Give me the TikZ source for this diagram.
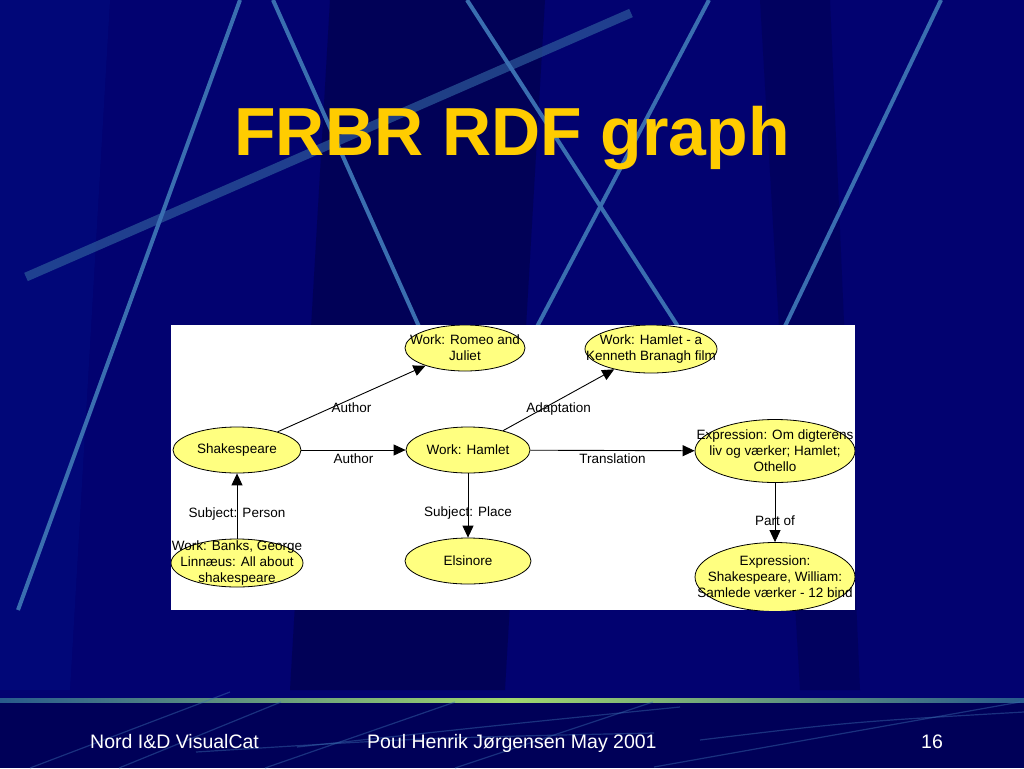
\documentclass[tikz,border=0pt]{standalone}
\usepackage{fontspec}
\setmainfont{Liberation Sans}
\usetikzlibrary{shapes.geometric,arrows.meta}
\definecolor{bgblue}{RGB}{2,2,112}
\definecolor{bgfoot}{RGB}{0,0,88}
\definecolor{streak}{RGB}{58,110,176}
\definecolor{streakthick}{RGB}{45,90,155}
\definecolor{titleyellow}{RGB}{255,204,0}
\definecolor{nodeyellow}{RGB}{255,255,128}
\definecolor{barmid}{RGB}{160,215,110}
\definecolor{barend}{RGB}{40,90,140}
\tikzset{
  ent/.style={ellipse, draw=black, line width=0.8pt, fill=nodeyellow, inner sep=0pt},
  txt/.style={font=\fontsize{13.5}{16}\selectfont, align=center, inner sep=0pt, text=black},
  lbl/.style={font=\fontsize{13.5}{16}\selectfont, inner sep=0pt, text=black},
  arr/.style={draw=black, line width=0.9pt, -{Triangle[length=12pt,width=11pt]}},
  streakline/.style={draw=streak, line width=4pt},
  footline/.style={draw=streak, line width=1.2pt, opacity=0.45},
  foottext/.style={font=\fontsize{19.5}{22}\selectfont, text=white, anchor=base west, inner sep=0pt}
}
\begin{document}
\begin{tikzpicture}[x=1pt,y=-1pt]
\useasboundingbox (0,0) rectangle (1024,768);
% background
\fill[bgblue] (0,0) rectangle (1024,768);
\fill[black, opacity=0.22] (330,0) -- (545,0) -- (505,690) -- (290,690) -- cycle;
\fill[black, opacity=0.15] (760,0) -- (830,0) -- (860,690) -- (800,690) -- cycle;
\fill[blue!60!cyan, opacity=0.06] (0,0) -- (110,0) -- (70,690) -- (0,690) -- cycle;
% streaks
\draw[streakthick, line width=9pt, opacity=0.7] (631,13) -- (26,277);
\draw[streakline] (240,0) -- (18,610);
\draw[streakline] (273,0) -- (425,340);
\draw[streakline] (467,0) -- (690,345);
\draw[streakline] (709,0) -- (530,340);
\draw[streakline] (941,0) -- (776,345);
% footer
\fill[bgfoot] (0,702) rectangle (1024,768);
\shade[left color=barend, right color=barend, middle color=barmid] (0,698) rectangle (1024,702.5);
\draw[footline] (30,768) -- (230,692);
\draw[footline] (119,768) -- (281,702);
\draw[footline] (265,768) -- (455,702);
\draw[footline] (196,752) .. controls (420,738) .. (654,733);
\draw[footline] (297,747) .. controls (500,725) .. (680,707);
\draw[footline] (455,768) -- (653,702);
\draw[footline] (654,767) -- (1020,702);
\draw[footline] (700,740) .. controls (850,722) .. (1024,712);
% title
\node[font=\fontsize{68}{72}\selectfont\bfseries, text=titleyellow, anchor=base, inner sep=0pt] (title) at (512,155) {FRBR RDF graph};
% footer texts
\node[foottext] (f1) at (90,748) {Nord I\&D VisualCat};
\node[foottext] (f2) at (367,748) {Poul Henrik Jørgensen May 2001};
\node[foottext] (f3) at (921,748) {16};
% graph
\begin{scope}
\clip (171,325) rectangle (855,610);
\fill[white] (171,325) rectangle (855,610);
\node[ent, minimum width=128pt, minimum height=46pt, label={[txt]center:{Shakespeare}}] (shk) at (237,450) {};
\node[ent, minimum width=120pt, minimum height=46pt, label={[txt]center:{Work: Romeo and\\Juliet}}] (romeo) at (465,348) {};
\node[ent, minimum width=132pt, minimum height=48pt, label={[txt]center:{Work: Hamlet - a\\Kenneth Branagh film}}] (branagh) at (651,349) {};
\node[ent, minimum width=124pt, minimum height=46pt, label={[txt]center:{Work: Hamlet}}] (hamlet) at (468,450) {};
\node[ent, minimum width=160pt, minimum height=63pt, label={[txt]center:{Expression: Om digterens\\liv og værker; Hamlet;\\Othello}}] (expom) at (775,451) {};
\node[ent, minimum width=126pt, minimum height=46pt, label={[txt]center:{Elsinore}}] (elsinore) at (468,561) {};
\node[ent, minimum width=132pt, minimum height=48pt, label={[txt]center:{Work: Banks, George\\Linnæus: All about\\shakespeare}}] (banks) at (237,563) {};
\node[ent, minimum width=160pt, minimum height=69pt, label={[txt]center:{Expression:\\Shakespeare, William:\\Samlede værker - 12 bind}}] (expsh) at (775,577) {};
\draw[arr] (shk) -- node[lbl, midway, yshift=-9pt] {Author} (romeo);
\draw[arr] (shk) -- node[lbl, midway, yshift=-9pt] {Author} (hamlet);
\draw[arr] (hamlet) -- node[lbl, midway, yshift=-9pt] {Adaptation} (branagh);
\draw[arr] (hamlet) -- node[lbl, midway, yshift=-8pt] {Translation} (expom);
\draw[arr] (banks) -- node[lbl, midway, yshift=-8pt] {Subject: Person} (shk);
\draw[arr] (hamlet) -- node[lbl, midway, yshift=-8pt] {Subject: Place} (elsinore);
\draw[arr] (expom) -- node[lbl, midway, yshift=-8pt] {Part of} (expsh);
\end{scope}
\end{tikzpicture}
\end{document}
